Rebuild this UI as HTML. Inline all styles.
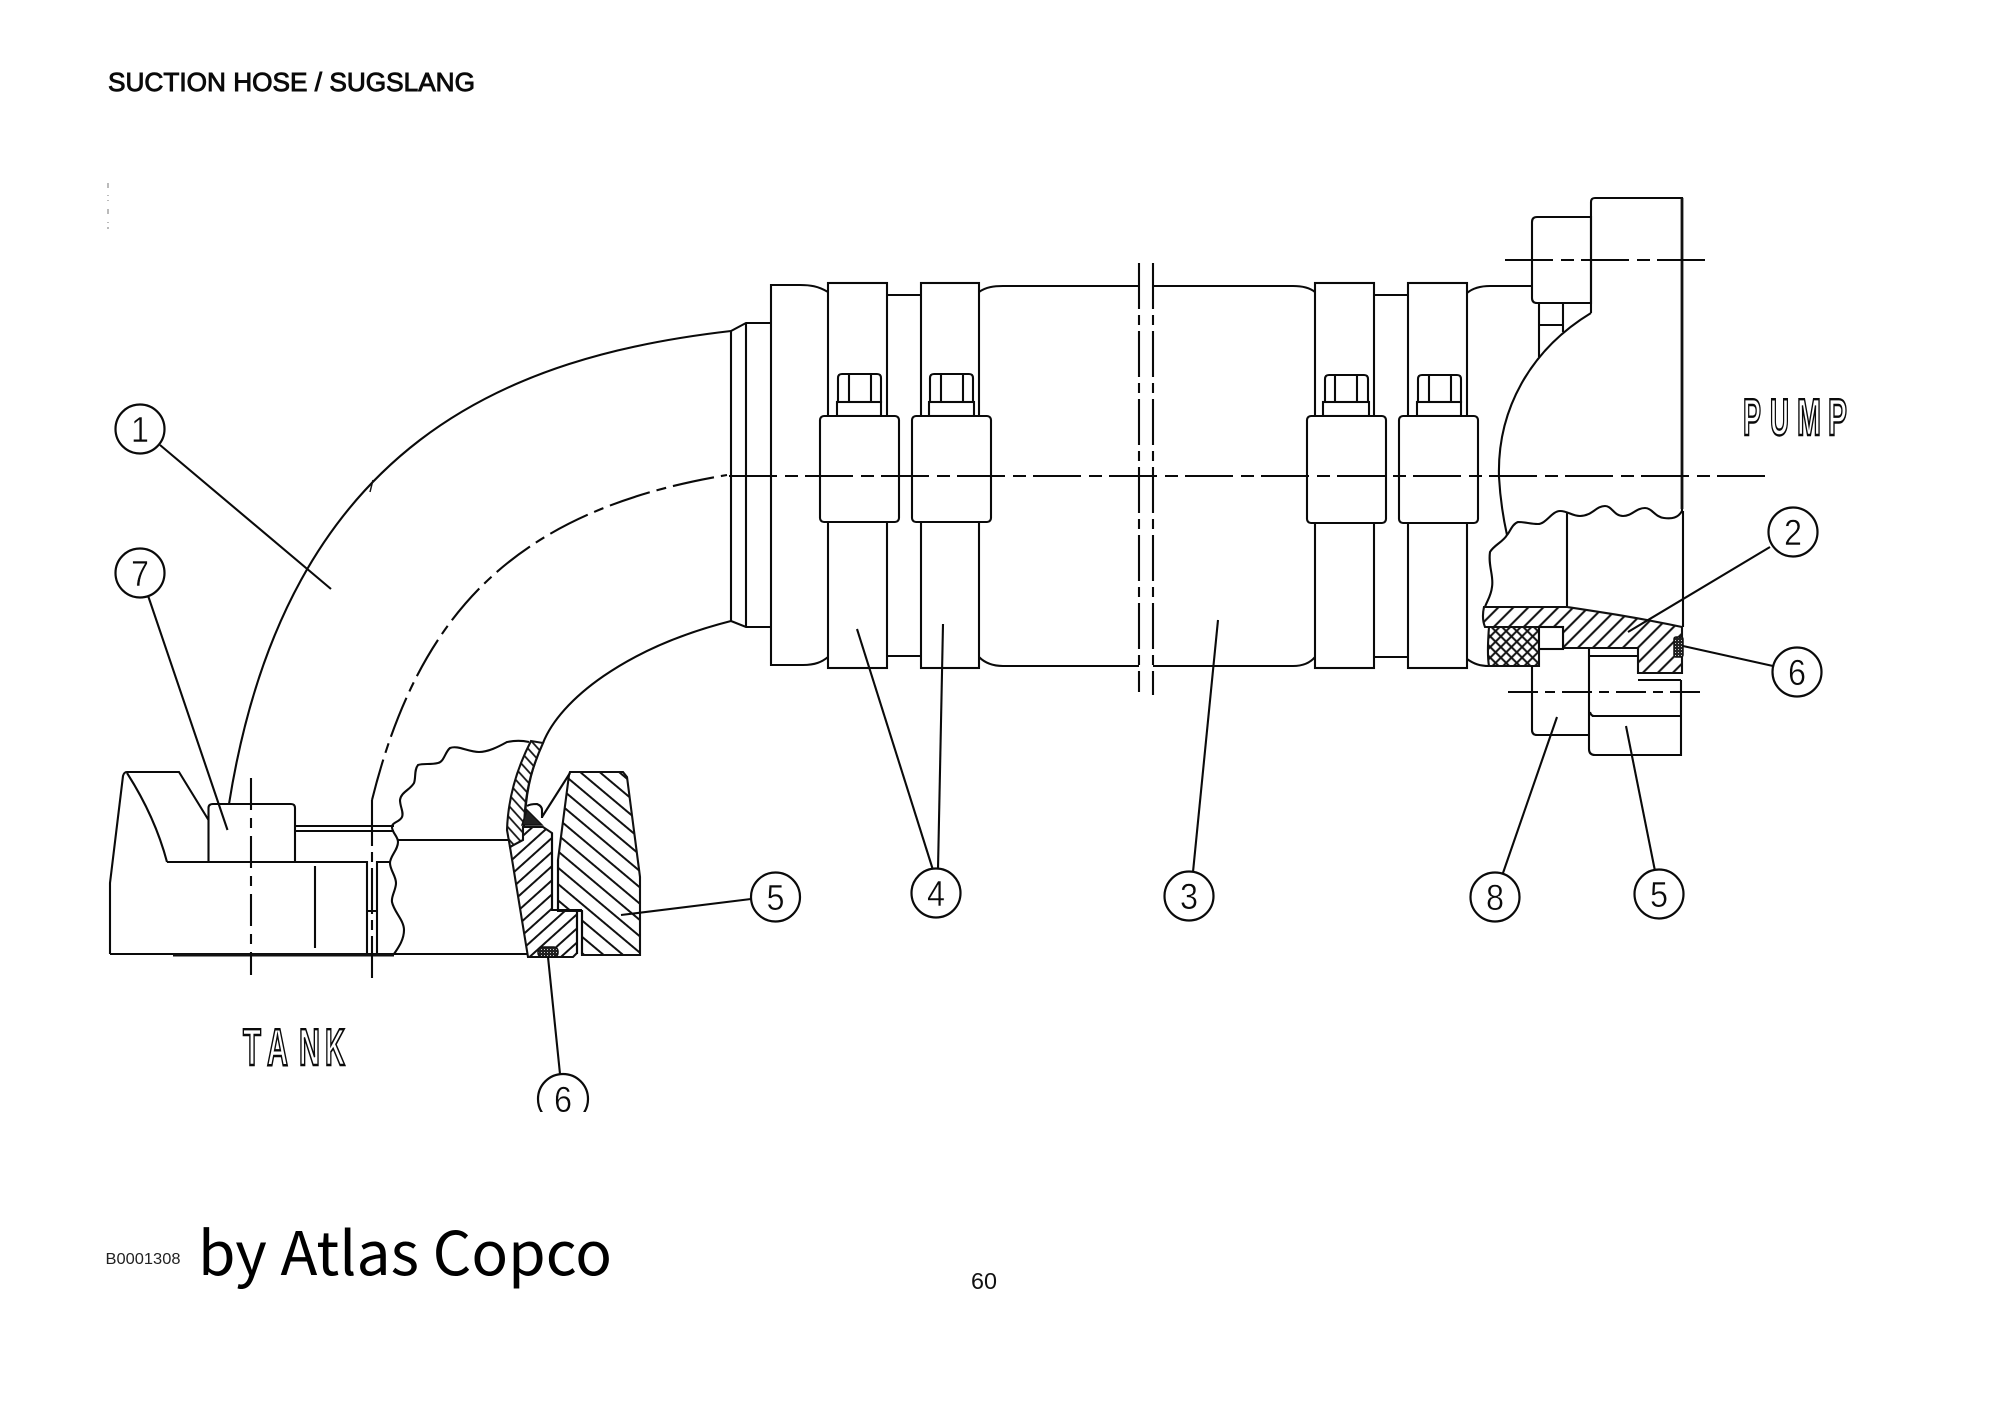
<!DOCTYPE html>
<html><head><meta charset="utf-8"><style>
html,body{margin:0;padding:0;background:#fff}
svg{display:block}
.l{fill:none;stroke:#0a0a0a;stroke-width:2.1}
.t{fill:none;stroke:#111;stroke-width:1.5}
.w{fill:#fff;stroke:#0a0a0a;stroke-width:2.1}
.c{fill:#fff;stroke:#0a0a0a;stroke-width:2.2}
.n{font-family:"Liberation Sans",sans-serif;font-size:36px;fill:#0a0a0a;stroke:#fff;stroke-width:.5;text-anchor:middle}
.o{font-family:"Liberation Sans",sans-serif;font-weight:bold;font-size:52px;fill:#fff;stroke:#0a0a0a;stroke-width:2.4}
</style></head><body>
<svg xmlns="http://www.w3.org/2000/svg" width="2000" height="1415" viewBox="0 0 2000 1415">
<defs>
<pattern id="h1" width="20" height="12.5" patternUnits="userSpaceOnUse" patternTransform="rotate(40)"><rect width="20" height="12.5" fill="#fff"/><line x1="0" y1="6" x2="20" y2="6" stroke="#111" stroke-width="2.1"/></pattern>
<pattern id="h2" width="20" height="10.5" patternUnits="userSpaceOnUse" patternTransform="rotate(-42)"><rect width="20" height="10.5" fill="#fff"/><line x1="0" y1="5" x2="20" y2="5" stroke="#111" stroke-width="2.1"/></pattern>
<pattern id="h3" width="20" height="7.5" patternUnits="userSpaceOnUse" patternTransform="rotate(48)"><rect width="20" height="7.5" fill="#fff"/><line x1="0" y1="3.5" x2="20" y2="3.5" stroke="#111" stroke-width="1.8"/></pattern>
<pattern id="h4" width="20" height="10.6" patternUnits="userSpaceOnUse" patternTransform="rotate(-45)"><rect width="20" height="10.6" fill="#fff"/><line x1="0" y1="5" x2="20" y2="5" stroke="#111" stroke-width="2.1"/></pattern>
<pattern id="x1" width="7.5" height="7.5" patternUnits="userSpaceOnUse" patternTransform="rotate(45)"><rect width="7.5" height="7.5" fill="#fff"/><path d="M0 3.75H7.5M3.75 0V7.5" stroke="#111" stroke-width="2"/></pattern>
<pattern id="d1" width="3" height="3" patternUnits="userSpaceOnUse"><rect width="3" height="3" fill="#222"/><rect x="1" y="1" width="1" height="1" fill="#ccc"/></pattern>
<clipPath id="cut"><rect x="500" y="1040" width="120" height="72"/></clipPath>
</defs>
<rect width="2000" height="1415" fill="#fff"/>

<!-- texts -->
<text x="108" y="91" font-family="Liberation Sans, sans-serif" font-size="26" fill="#0a0a0a" stroke="#0a0a0a" stroke-width=".9" textLength="367" lengthAdjust="spacingAndGlyphs">SUCTION HOSE / SUGSLANG</text>
<text x="105.5" y="1264" font-family="Liberation Sans, sans-serif" font-size="15.5" fill="#222" textLength="75" lengthAdjust="spacingAndGlyphs">B0001308</text>
<text x="198" y="1275" font-family="Noto Sans CJK SC, Liberation Sans, sans-serif" font-size="60" fill="#000" textLength="414" lengthAdjust="spacingAndGlyphs">by Atlas Copco</text>
<text x="971" y="1289" font-family="Liberation Sans, sans-serif" font-size="23" fill="#111" textLength="26" lengthAdjust="spacingAndGlyphs">60</text>

<!-- specks -->
<path d="M108 183v5M108 195v1M108 200v1M108 209v5M108 222v1M108 227v2" stroke="#777" stroke-width="1"/>

<!-- elbow -->
<path class="l" d="M229 804C287 439 513 356 731 331"/>
<path class="l" stroke-dasharray="42 7 10 7" d="M372 800C420 607 520.5 509.5 727 475"/>
<path class="l" d="M525 815C527 785 533 765 543 743C560 700 625 648 731 621"/>
<path class="t" d="M373 480l-3 12" />

<!-- neck -->
<path class="l" d="M731 331V621M746 323V627M731 331L746 323H771M731 621L746 627H771"/>

<!-- flange and hose -->
<path class="l" d="M828 292C818 286 810 285 800 285H771V665H803C815 665 822 662 828 657"/>
<path class="l" d="M887 295H921M887 656H921"/>
<path class="l" d="M979 292C986 287 994 286 1003 286H1139M1153 286H1293C1303 286 1310 288 1315 292"/>
<path class="l" d="M979 657C986 664 994 666 1003 666H1139M1153 666H1293C1303 666 1310 663 1315 657"/>
<path class="l" d="M1374 295H1408M1374 657H1408"/>
<path class="l" stroke-dasharray="46 6 10 6" d="M1139 263V692M1153 263V695"/>

<!-- clamps -->
<rect class="w" x="828" y="283" width="59" height="385"/>
<rect class="w" x="921" y="283" width="58" height="385"/>
<rect class="w" x="1315" y="283" width="59" height="385"/>
<rect class="w" x="1408" y="283" width="59" height="385"/>
<!-- bolts -->
<path class="w" d="M838 402V378Q838 374 842 374H877Q881 374 881 378V402Z"/><rect class="w" x="837" y="402" width="44" height="14"/><path class="l" d="M849 374V402M871 374V402"/>
<path class="w" d="M930 402V378Q930 374 934 374H969Q973 374 973 378V402Z"/><rect class="w" x="929" y="402" width="45" height="14"/><path class="l" d="M941 374V402M963 374V402"/>
<path class="w" d="M1325 402V379Q1325 375 1329 375H1364Q1368 375 1368 379V402Z"/><rect class="w" x="1323" y="402" width="46" height="14"/><path class="l" d="M1335 375V402M1357 375V402"/>
<path class="w" d="M1418 402V379Q1418 375 1422 375H1457Q1461 375 1461 379V402Z"/><rect class="w" x="1417" y="402" width="44" height="14"/><path class="l" d="M1429 375V402M1451 375V402"/>
<!-- blocks -->
<rect class="w" x="820" y="416" width="79" height="106" rx="4"/>
<rect class="w" x="912" y="416" width="79" height="106" rx="4"/>
<rect class="w" x="1307" y="416" width="79" height="107" rx="4"/>
<rect class="w" x="1399" y="416" width="79" height="107" rx="4"/>

<!-- pump flange -->
<path class="l" d="M1467 293C1473 288 1480 286 1490 286H1532"/>
<path class="l" d="M1467 659C1474 664 1480 666 1489 666"/>
<path class="l" d="M1539 303V357M1563 303V332M1539 325H1563"/>
<path class="w" d="M1532 222Q1532 217 1537 217H1591V303H1537Q1532 303 1532 298Z"/>
<path class="l" d="M1591 217V202Q1591 198 1595 198H1682V511"/>
<path stroke="#111" stroke-width="2.8" fill="none" d="M1682 198V509"/>
<path class="l" d="M1591 313C1530 350 1497 410 1499 477C1500 495 1503 517 1507 535M1591 217V313"/>
<path class="l" d="M1682 511C1678 518 1672 519 1664 518C1655 517 1652 508 1645 508C1636 508 1632 516 1623 516C1614 516 1612 506 1605 506C1596 506 1592 516 1580 516C1572 516 1568 511 1560 511C1552 511 1546 524 1538 524C1530 524 1526 522 1518 522C1512 524 1510 532 1507 535C1503 542 1494 545 1490 552C1488 566 1494 576 1492 587C1491 596 1487 601 1485 607"/>
<path class="l" d="M1567 513V607M1683 511V627"/>

<!-- hatched pump part -->
<path d="M1484 607H1567C1600 612 1640 618 1682 627V673H1638V648H1563V627H1485C1483 622 1482 616 1484 607Z" fill="url(#h4)" stroke="#111" stroke-width="2.1"/>
<path d="M1489 627H1539V666H1489C1487 655 1488 640 1489 627Z" fill="url(#x1)" stroke="#111" stroke-width="2.1"/>
<rect class="w" x="1539" y="627" width="24" height="22"/>
<rect x="1674" y="637" width="9" height="20" rx="2" fill="url(#d1)" stroke="#111" stroke-width="1.5"/>
<path class="l" d="M1532 666V730Q1532 735 1537 735H1589"/>
<path class="l" d="M1589 649V749Q1589 755 1595 755H1681V680"/>
<path class="l" d="M1590 656H1638M1638 680H1681M1592 716H1681M1590 712Q1591 716 1594 716"/>
<path class="l" stroke-width="1.7" stroke-dasharray="30 7 10 7" d="M1508 692H1703"/>

<!-- tank flange -->
<path class="l" d="M110 954V883L123 776Q124 772 127 772H179L208.5 820"/>
<path class="l" d="M127 773C143 798 158 828 167 862"/>
<path class="w" d="M208.5 862V808Q208.5 804 213 804H291Q295 804 295 808V862"/>
<path class="l" d="M167 862H367V954M377 954V862H390M367 911H377"/>
<path class="l" d="M295 826H394M295 831H394"/>
<path class="l" d="M315 866V948"/>
<path class="l" d="M110 954H529"/>
<path stroke="#111" stroke-width="3" d="M173 955H394"/>
<path class="l" stroke-dasharray="32 8 10 8" d="M251 778V975"/>
<path class="l" stroke-dasharray="46 6 10 6" d="M372 800V978"/>
<path class="l" d="M529 742C520 740 512 741 507 742C498 747 488 752 479 752C468 752 458 745 450 748C445 752 444 762 438 763C430 765 424 763 418 765C414 770 416 778 414 783C410 790 401 792 400 800C400 807 404 812 402 817C400 822 392 822 392 827C392 833 398 836 398 842C398 850 390 856 390 863C390 870 396 876 396 883C396 890 391 896 392 902C394 912 404 920 404 930C404 940 398 948 394 954"/>
<path class="l" d="M398 840H521"/>

<!-- tank section -->
<path d="M531 741L543 743C533 765 527 785 525 810L523 840L510 847L507 830C508 800 516 770 531 741Z" fill="url(#h3)" stroke="#111" stroke-width="2.1"/>
<path d="M510 847L523 840V827H543L552 833V910H577V953L573 957H528Z" fill="url(#h2)" stroke="#111" stroke-width="2.1"/>
<path d="M570 772H623L627 777L640 877V955H582V911H558V860L569 775Z" fill="url(#h1)" stroke="#111" stroke-width="2.1"/>
<path class="l" d="M552 910V833M558 860V910M552 910H582M577 911V954M582 911V954"/>
<path class="l" d="M570 773L542 817"/>
<path class="l" d="M527 806Q530 804 537 804Q542 806 542 810V818"/>
<path d="M527 810L522 825H542Z" fill="#222" stroke="#111" stroke-width="1.5"/>
<rect x="538" y="947" width="20" height="10" rx="4" fill="url(#d1)" stroke="#111" stroke-width="1.5"/>

<!-- centre line -->
<path class="l" stroke-width="1.9" stroke-dasharray="48 8 13 7" stroke-dashoffset="-2" d="M727 476H1772"/>
<path class="l" stroke-width="1.7" stroke-dasharray="48 8 13 7" d="M1505 260H1708"/>

<!-- leaders -->
<g class="l">
<path d="M160 445L331 589"/>
<path d="M148.5 597L227.5 830"/>
<path d="M857 629L933 870"/>
<path d="M943 624L938 869"/>
<path d="M1218 620L1193 872"/>
<path d="M1770 547L1628 632"/>
<path d="M1773 666L1683 646"/>
<path d="M1503 873L1557 717"/>
<path d="M1655 871L1626 726"/>
<path d="M751 899L621 915"/>
<path d="M548 957L560 1074"/>
</g>

<!-- circles -->
<circle class="c" cx="140" cy="429" r="24.5"/><text class="n" transform="translate(140,442) scale(.9,1)">1</text>
<circle class="c" cx="140" cy="573" r="24.5"/><text class="n" transform="translate(140,586) scale(.9,1)">7</text>
<circle class="c" cx="775.5" cy="897" r="24.5"/><text class="n" transform="translate(775.5,910) scale(.9,1)">5</text>
<circle class="c" cx="936" cy="893" r="24.5"/><text class="n" transform="translate(936,906) scale(.9,1)">4</text>
<circle class="c" cx="1189" cy="896" r="24.5"/><text class="n" transform="translate(1189,909) scale(.9,1)">3</text>
<circle class="c" cx="1495" cy="897" r="24.5"/><text class="n" transform="translate(1495,910) scale(.9,1)">8</text>
<circle class="c" cx="1659" cy="894" r="24.5"/><text class="n" transform="translate(1659,907) scale(.9,1)">5</text>
<circle class="c" cx="1793" cy="532" r="24.5"/><text class="n" transform="translate(1793,545) scale(.9,1)">2</text>
<circle class="c" cx="1797" cy="672" r="24.5"/><text class="n" transform="translate(1797,685) scale(.9,1)">6</text>
<g clip-path="url(#cut)"><circle class="c" cx="563" cy="1099" r="25"/><text class="n" transform="translate(563,1112) scale(.9,1)">6</text></g>

<!-- outline labels -->
<g class="o">
<text x="243" y="1065" textLength="18" lengthAdjust="spacingAndGlyphs">T</text>
<text x="267" y="1065" textLength="21" lengthAdjust="spacingAndGlyphs">A</text>
<text x="299" y="1065" textLength="21" lengthAdjust="spacingAndGlyphs">N</text>
<text x="325" y="1065" textLength="20" lengthAdjust="spacingAndGlyphs">K</text>
<text x="1743" y="435" textLength="18" lengthAdjust="spacingAndGlyphs">P</text>
<text x="1770" y="435" textLength="19" lengthAdjust="spacingAndGlyphs">U</text>
<text x="1797" y="435" textLength="24" lengthAdjust="spacingAndGlyphs">M</text>
<text x="1828" y="435" textLength="19" lengthAdjust="spacingAndGlyphs">P</text>
</g>
</svg>
</body></html>
